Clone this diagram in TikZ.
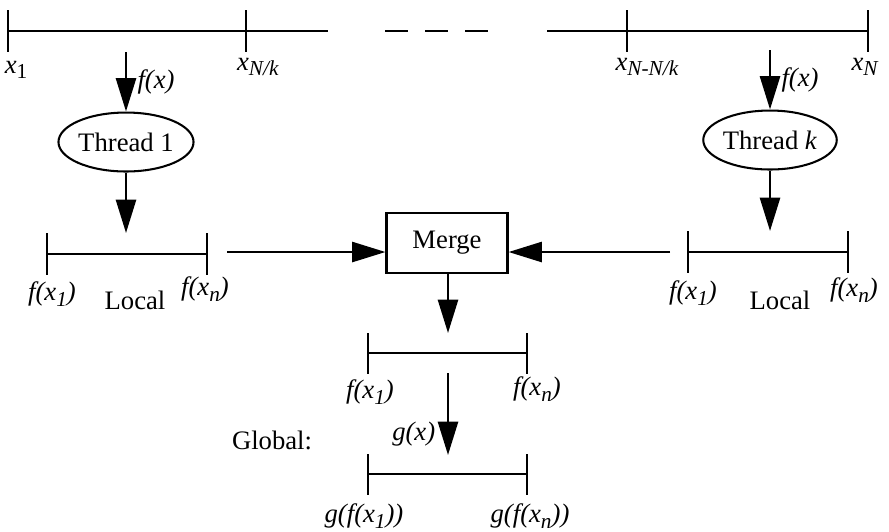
\documentclass[tikz,border=0pt]{standalone}
\usepackage{fontspec}
\setmainfont{Liberation Serif}
\usetikzlibrary{arrows.meta, positioning, shapes.geometric}

% subscript as the figure sets it: large and lowered
\newcommand{\lowsub}[1]{\raisebox{-0.45ex}{\fontsize{8.3}{10}\selectfont #1}}

\begin{document}
\begin{tikzpicture}[
      x=0.39pt, y=-0.39pt,
      font=\fontsize{10.4}{12}\selectfont,
      line/.style={line width=1pt},
      flow/.style={line width=1pt, -{Triangle[width=7.8pt, length=13pt]}},
      thread/.style={draw, ellipse, line width=0.8pt, minimum width=47pt,
                     minimum height=23pt, inner sep=0pt},
      mergebox/.style={draw, line width=1pt, minimum width=47pt,
                       minimum height=23.4pt, inner sep=0pt},
      lbl/.style={inner sep=0pt},
    ]
    \useasboundingbox (0,0) rectangle (889,531);

    % input array x_1 .. x_N, split into k pieces
    \coordinate (a0) at (8,31);
    \coordinate (a1) at (246,31);
    \coordinate (a2) at (328,31);
    \coordinate (b0) at (547,31);
    \coordinate (b1) at (627,31);
    \coordinate (b2) at (868,31);
    \draw[line] (a0) -- (a2);
    \draw[line] (b0) -- (b2);
    \foreach \c in {a0,a1,b1,b2}
      \draw[line] (\c) ++(0,-21) -- ++(0,42);
    \foreach \x in {385,425,465}
      \draw[line] (\x,31) -- ++(23,0);

    \node[lbl] (xa0) at (16,70) {\textit{x}\lowsub{1}};
    \node[lbl] (xa1) at (258,67) {\textit{x}\lowsub{\textit{N/k}}};
    \node[lbl] (xb1) at (647,67) {\textit{x}\lowsub{\textit{N-N/k}}};
    \node[lbl] (xb2) at (865,67) {\textit{x}\lowsub{\textit{N}}};

    % threads
    \node[thread] (t1) at (126,142) {Thread 1};
    \node[thread] (tk) at (770,140) {Thread \textit{k}};

    \coordinate (inL) at (126,52);
    \coordinate (inR) at (770,50);
    \draw[flow] (inL) -- (t1.north) node[lbl, midway, right=4pt] (fxL) {\textit{f(x)}};
    \draw[flow] (inR) -- (tk.north) node[lbl, midway, right=4pt] (fxR) {\textit{f(x)}};

    % local results
    \coordinate (l0) at (47,254);
    \coordinate (l1) at (207,254);
    \coordinate (r0) at (688,252);
    \coordinate (r1) at (848,252);
    \draw[line] (l0) -- (l1);
    \draw[line] (r0) -- (r1);
    \foreach \c in {l0,l1,r0,r1}
      \draw[line] (\c) ++(0,-21) -- ++(0,42);

    \coordinate (locL) at (126,233);
    \coordinate (locR) at (770,231);
    \draw[flow] (t1.south) -- (locL);
    \draw[flow] (tk.south) -- (locR);

    \node[lbl] (fl0) at (52,294) {\textit{f(x\lowsub{1})}};
    \node[lbl] (fl1) at (205,289) {\textit{f(x\lowsub{n})}};
    \node[lbl] (locl) at (135,300) {Local};
    \node[lbl] (fr0) at (693,293) {\textit{f(x\lowsub{1})}};
    \node[lbl] (fr1) at (854,290) {\textit{f(x\lowsub{n})}};
    \node[lbl] (locr) at (780,300) {Local};

    % merge step
    \node[mergebox] (merge) at (447,243) {Merge};
    \coordinate (mL) at (227,252);
    \coordinate (mR) at (670,252);
    \draw[flow] (mL) -- (mL -| merge.west);
    \draw[flow] (mR) -- (mR -| merge.east);

    % global result
    \coordinate (g0) at (368,353);
    \coordinate (g1) at (527,353);
    \coordinate (h0) at (368,474);
    \coordinate (h1) at (527,474);
    \draw[line] (g0) -- (g1);
    \draw[line] (h0) -- (h1);
    \foreach \c in {g0,g1,h0,h1}
      \draw[line] (\c) ++(0,-20) -- ++(0,41);

    \coordinate (gm) at (448,333);
    \draw[flow] (merge.south -| gm) -- (gm);
    \coordinate (gs) at (448,373);
    \coordinate (ge) at (448,455);
    \draw[flow] (gs) -- (ge) node[lbl, pos=0.75, left=4.5pt] (gx) {\textit{g(x)}};

    \node[lbl] (fg0) at (370,392) {\textit{f(x\lowsub{1})}};
    \node[lbl] (fg1) at (537,389) {\textit{f(x\lowsub{n})}};
    \node[lbl] (glob) at (272,440) {Global:};
    \node[lbl] (gg0) at (364,516) {\textit{g(f(x\lowsub{1}))}};
    \node[lbl] (gg1) at (530,516) {\textit{g(f(x\lowsub{n}))}};
  \end{tikzpicture}
\end{document}
